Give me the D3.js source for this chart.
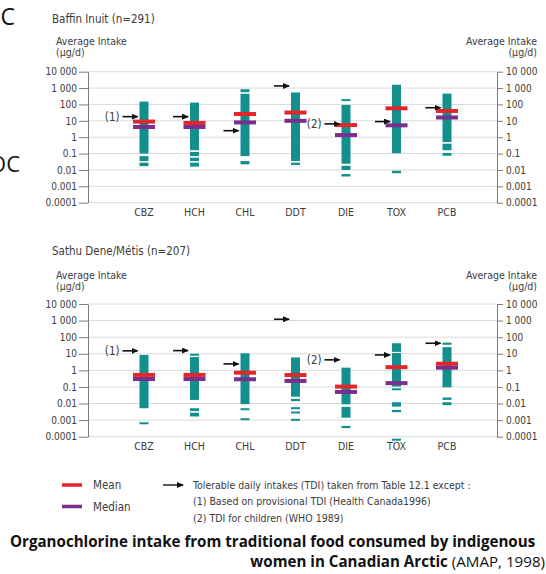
<!DOCTYPE html>
<html>
<head>
<meta charset="utf-8">
<script src="https://cdn.jsdelivr.net/npm/d3@7"></script>
<style>
  html, body { margin: 0; padding: 0; background: #fff; }
  svg { display: block; }
  .narrow { font-family: "Liberation Sans Narrow", "Arial Narrow", "DejaVu Sans Condensed", sans-serif; }
</style>
</head>
<body>
<svg id="chart" width="546" height="574"></svg>
<script>
// Organochlorine groups on the x axis
const categories = ["CBZ", "HCH", "CHL", "DDT", "DIE", "TOX", "PCB"];

// Log axis ticks (µg/d) and their printed labels
const tickValues = [10000, 1000, 100, 10, 1, 0.1, 0.01, 0.001, 0.0001];
const tickLabels = ["10 000", "1 000", "100", "10", "1", "0.1", "0.01", "0.001", "0.0001"];

// Footnote markers next to the TDI arrows
const tdiNotes = ["(1)", "", "", "", "(2)", "", ""];

// Baffin Inuit (n=291): intake distribution pieces [high, low] per group, µg/d
const baffinRanges = [
  [[150, 0.1], [0.07, 0.035], [0.028, 0.017]],
  [[130, 0.16], [0.125, 0.07], [0.056, 0.035], [0.028, 0.016]],
  [[850, 560], [450, 0.07], [0.035, 0.022]],
  [[540, 0.035], [0.028, 0.02]],
  [[210, 160], [93, 0.024], [0.018, 0.01], [0.0056, 0.004]],
  [[1600, 0.105], [0.009, 0.0063]],
  [[460, 0.5], [0.4, 0.16], [0.11, 0.074]]
];
const baffinMean   = [9, 7.4, 26, 32, 5.5, 58, 40];
const baffinMedian = [4.2, 4.2, 8, 10, 1.35, 5.3, 16];
const baffinTDI    = [18, 18, 2.5, 1350, 6.5, 9, 63];

// Sathu Dene/Métis (n=207)
const sathuRanges = [
  [[8.5, 0.0052], [0.00074, 0.00056]],
  [[10, 8.9], [6.3, 0.0166], [0.0052, 0.0035], [0.0028, 0.00166]],
  [[10.7, 0.0091], [0.0052, 0.0041], [0.0013, 0.001]],
  [[6, 0.026], [0.019, 0.0138], [0.006, 0.0049], [0.0033, 0.0027], [0.0012, 0.001]],
  [[1.45, 0.0089], [0.0063, 0.0014], [0.00045, 0.00033]],
  [[43, 13], [11, 0.105], [0.083, 0.069], [0.012, 0.0065], [0.0041, 0.003], [0.000076, 0.00006]],
  [[47, 35], [25, 0.095], [0.023, 0.0166], [0.012, 0.008]]
];
const sathuMean   = [0.53, 0.53, 0.72, 0.52, 0.105, 1.55, 2.5];
const sathuMedian = [0.3, 0.3, 0.29, 0.23, 0.05, 0.17, 1.45];
const sathuTDI    = [15, 15.5, 2.45, 1200, 4.3, 8.5, 43];

const COLORS = { bar: "#138f8e", mean: "#e4252c", median: "#7b2f8d", text: "#3c3c3c", axis: "#7a7a7a", grid: "#dadada" };

const svg = d3.select("#chart");

// arrowhead used for TDI markers
svg.append("defs").append("marker")
  .attr("id", "arrowhead")
  .attr("markerUnits", "userSpaceOnUse")
  .attr("markerWidth", 7).attr("markerHeight", 6)
  .attr("refX", 6).attr("refY", 3)
  .attr("orient", "auto")
  .append("path").attr("d", "M0,0 L7,3 L0,6 Z").attr("fill", "#111");

const axisLeftX = 88, axisRightX = 497;
const x = d3.scalePoint().domain(categories).range([144, 447]);

const panels = [
  { title: "Baffin Inuit (n=291)", ranges: baffinRanges, mean: baffinMean, median: baffinMedian, tdi: baffinTDI,
    top: 71.7, bottom: 202.7, titleY: 23, unitY1: 45, unitY2: 55.5, catY: 216 },
  { title: "Sathu Dene/Métis (n=207)", ranges: sathuRanges, mean: sathuMean, median: sathuMedian, tdi: sathuTDI,
    top: 304, bottom: 436.7, titleY: 255, unitY1: 279, unitY2: 290, catY: 450 }
];

panels.forEach(p => {
  const y = d3.scaleLog().domain([0.0001, 10000]).range([p.bottom, p.top]);
  const g = svg.append("g");

  // panel title and unit captions
  g.append("text").attr("class", "narrow").attr("x", 52).attr("y", p.titleY)
    .attr("font-size", 11.5).attr("fill", COLORS.text).text(p.title);
  [["Average Intake", p.unitY1], ["(µg/d)", p.unitY2]].forEach(([t, yy]) => {
    g.append("text").attr("class", "narrow").attr("x", 56).attr("y", yy)
      .attr("font-size", 10.5).attr("fill", COLORS.text).text(t);
    g.append("text").attr("class", "narrow").attr("x", 537).attr("y", yy)
      .attr("text-anchor", "end").attr("font-size", 10.5).attr("fill", COLORS.text).text(t);
  });

  // horizontal grid
  g.append("g").selectAll("line").data(tickValues).join("line")
    .attr("x1", axisLeftX).attr("x2", axisRightX)
    .attr("y1", d => y(d)).attr("y2", d => y(d))
    .attr("stroke", COLORS.grid).attr("stroke-width", 1);

  // left and right log axes
  const fmt = d => tickLabels[tickValues.indexOf(d)];
  const leftAxis = d3.axisLeft(y).tickValues(tickValues).tickFormat(fmt).tickSize(9).tickSizeOuter(0).tickPadding(2);
  const rightAxis = d3.axisRight(y).tickValues(tickValues).tickFormat(fmt).tickSize(6).tickSizeOuter(0).tickPadding(3);
  [[leftAxis, axisLeftX], [rightAxis, axisRightX]].forEach(([ax, xx]) => {
    const a = g.append("g").attr("transform", `translate(${xx},0)`).call(ax);
    a.select(".domain").attr("stroke", COLORS.axis);
    a.selectAll(".tick line").attr("stroke", COLORS.axis);
    a.selectAll(".tick text").attr("class", "narrow").attr("font-size", 10).attr("fill", COLORS.text);
  });

  // distribution bars
  const barW = 9;
  p.ranges.forEach((segs, i) => {
    const cx = x(categories[i]);
    g.append("g").selectAll("rect").data(segs).join("rect")
      .attr("x", cx - barW / 2).attr("width", barW)
      .attr("y", d => y(d[0]))
      .attr("height", d => Math.max(2, y(d[1]) - y(d[0])))
      .attr("fill", COLORS.bar);
  });

  // median then mean markers
  const markW = 22, markH = 4;
  [[p.median, COLORS.median], [p.mean, COLORS.mean]].forEach(([vals, col]) => {
    g.append("g").selectAll("rect").data(vals).join("rect")
      .attr("x", (d, i) => x(categories[i]) - markW / 2).attr("width", markW)
      .attr("y", d => y(d) - markH / 2).attr("height", markH)
      .attr("fill", col);
  });

  // tolerable daily intake arrows
  const arrowLen = 15;
  p.tdi.forEach((v, i) => {
    const tip = x(categories[i]) - 6.5;
    g.append("line").attr("x1", tip - arrowLen).attr("x2", tip)
      .attr("y1", y(v)).attr("y2", y(v))
      .attr("stroke", "#111").attr("stroke-width", 1.6)
      .attr("marker-end", "url(#arrowhead)");
    if (tdiNotes[i]) {
      g.append("text").attr("class", "narrow")
        .attr("x", tip - arrowLen - 3).attr("y", y(v))
        .attr("dy", "0.35em").attr("text-anchor", "end")
        .attr("font-size", 11.5).attr("fill", COLORS.text).text(tdiNotes[i]);
    }
  });

  // category labels
  g.append("g").selectAll("text").data(categories).join("text")
    .attr("class", "narrow").attr("x", d => x(d)).attr("y", p.catY)
    .attr("text-anchor", "middle").attr("font-size", 10.5).attr("fill", COLORS.text)
    .text(d => d);
});

// legend
const lg = svg.append("g");
[["Mean", COLORS.mean, 485, 489], ["Median", COLORS.median, 506.5, 511]].forEach(([t, c, ly, ty]) => {
  lg.append("line").attr("x1", 62).attr("x2", 82).attr("y1", ly).attr("y2", ly)
    .attr("stroke", c).attr("stroke-width", 3.5);
  lg.append("text").attr("class", "narrow").attr("x", 93).attr("y", ty)
    .attr("font-size", 11.5).attr("fill", COLORS.text).text(t);
});
lg.append("line").attr("x1", 163).attr("x2", 183).attr("y1", 485).attr("y2", 485)
  .attr("stroke", "#111").attr("stroke-width", 1.4).attr("marker-end", "url(#arrowhead)");
[["Tolerable daily intakes (TDI) taken from Table 12.1 except :", 488.5],
 ["(1) Based on provisional TDI (Health Canada1996)", 505],
 ["(2) TDI for children (WHO 1989)", 521.5]].forEach(([t, ty]) => {
  lg.append("text").attr("class", "narrow").attr("x", 193).attr("y", ty)
    .attr("font-size", 10.5).attr("fill", COLORS.text).text(t);
});

// caption below the chart
const cap = svg.append("g").attr("font-family", "'Open Sans', 'Liberation Sans', sans-serif").attr("fill", "#111");
const line1 = cap.append("text").attr("x", 10).attr("y", 547).attr("font-weight", "bold").attr("font-size", 14)
  .text("Organochlorine intake from traditional food consumed by indigenous");
const w1 = line1.node().getComputedTextLength();
const fs = 14 * 526 / w1;
line1.attr("font-size", fs);
const line2 = cap.append("text").attr("x", 545).attr("y", 567).attr("text-anchor", "end").attr("font-size", fs);
line2.append("tspan").attr("font-weight", "bold").text("women in Canadian Arctic ");
line2.append("tspan").text("(AMAP, 1998)");

// fragments of slide text at the left margin
svg.append("text").attr("x", 15).attr("y", 25).attr("text-anchor", "end")
  .attr("font-family", "'Open Sans', sans-serif").attr("font-size", 23).attr("fill", "#111").text("C");
svg.append("text").attr("x", 20).attr("y", 172).attr("text-anchor", "end")
  .attr("font-family", "'Open Sans', sans-serif").attr("font-size", 22).attr("fill", "#111").text("OC");
</script>
</body>
</html>
